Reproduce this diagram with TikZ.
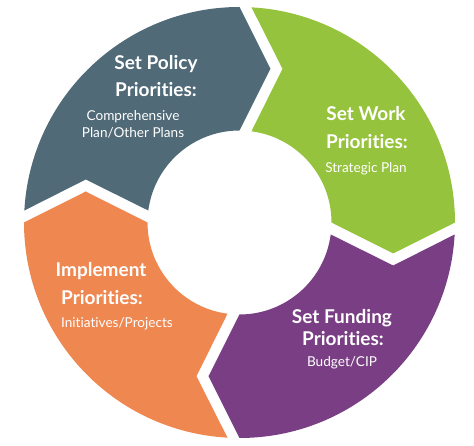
\documentclass[tikz,border=0pt]{standalone}
\usepackage{fontspec}
\setmainfont{Lato}[Ligatures={NoCommon,NoRare}]
\definecolor{policyblue}{HTML}{506A77}
\definecolor{workgreen}{HTML}{96C33D}
\definecolor{fundpurple}{HTML}{7A3E84}
\definecolor{implorange}{HTML}{EF8751}
\begin{document}
\begin{tikzpicture}
    [
        x=1pt, y=1pt,
        cyclearrow/.pic={
            \path[pic actions] (176.81:215.5) -- (-153.75,43) -- (172.51:92)
                arc[start angle=172.51, end angle=90, radius=92]
                -- (31,153.75) -- (90:215.5)
                arc[start angle=90, end angle=176.81, radius=215.5] -- cycle;
        },
        head/.style={font=\fontsize{19}{21}\selectfont\bfseries, text=white, anchor=base, inner sep=0pt},
        sub/.style={font=\fontsize{13.6}{15}\selectfont, text=white, anchor=base, inner sep=0pt}
    ]

    \useasboundingbox (-239.5,-223.5) rectangle (234.5,222.5);

    \pic[fill=policyblue] (policy) {cyclearrow};
    \pic[fill=workgreen, rotate=-90] (work) {cyclearrow};
    \pic[fill=fundpurple, rotate=-180] (fund) {cyclearrow};
    \pic[fill=implorange, rotate=-270] (impl) {cyclearrow};

    \node[head] (policy1) at (-83.5,153) {Set Policy};
    \node[head] (policy2) at (-83.5,126) {Priorities:};
    \node[sub] (policy3) at (-106.5,102) {Comprehensive};
    \node[sub] (policy4) at (-106.5,85) {Plan/Other Plans};

    \node[head] (work1) at (126.5,102) {Set Work};
    \node[head] (work2) at (127.5,74) {Priorities:};
    \node[sub] (work3) at (126.5,50) {Strategic Plan};

    \node[head] (fund1) at (102.5,-101) {Set Funding};
    \node[head] (fund2) at (103.5,-123) {Priorities:};
    \node[sub] (fund3) at (102.5,-144) {Budget/CIP};

    \node[head] (impl1) at (-138.5,-54) {Implement};
    \node[head] (impl2) at (-137.5,-82) {Priorities:};
    \node[sub] (impl3) at (-122.5,-105) {Initiatives/Projects};
\end{tikzpicture}
\end{document}
